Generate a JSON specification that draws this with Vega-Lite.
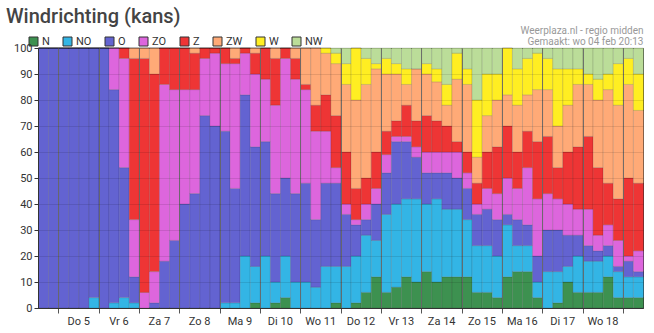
{
  "$schema": "https://vega.github.io/schema/vega-lite/v6.json",
  "width": 605,
  "height": 260,
  "autosize": {"type": "none"},
  "padding": {"left": 38, "top": 48, "right": 11, "bottom": 25},
  "background": "white",
  "title": {"text": "Windrichting (kans)", "anchor": "start", "frame": "group", "fontSize": 20, "fontWeight": 500, "color": "#444", "dx": -32, "dy": 6},
  "data": {"values": [
    {"t":"2026-02-04T12:00","N":0,"NO":0,"O":100,"ZO":0,"Z":0,"ZW":0,"W":0,"NW":0},
    {"t":"2026-02-04T18:00","N":0,"NO":0,"O":100,"ZO":0,"Z":0,"ZW":0,"W":0,"NW":0},
    {"t":"2026-02-05T00:00","N":0,"NO":0,"O":100,"ZO":0,"Z":0,"ZW":0,"W":0,"NW":0},
    {"t":"2026-02-05T06:00","N":0,"NO":0,"O":100,"ZO":0,"Z":0,"ZW":0,"W":0,"NW":0},
    {"t":"2026-02-05T12:00","N":0,"NO":0,"O":100,"ZO":0,"Z":0,"ZW":0,"W":0,"NW":0},
    {"t":"2026-02-05T18:00","N":0,"NO":4,"O":96,"ZO":0,"Z":0,"ZW":0,"W":0,"NW":0},
    {"t":"2026-02-06T00:00","N":0,"NO":0,"O":100,"ZO":0,"Z":0,"ZW":0,"W":0,"NW":0},
    {"t":"2026-02-06T06:00","N":0,"NO":2,"O":82,"ZO":16,"Z":0,"ZW":0,"W":0,"NW":0},
    {"t":"2026-02-06T12:00","N":0,"NO":4,"O":50,"ZO":42,"Z":4,"ZW":0,"W":0,"NW":0},
    {"t":"2026-02-06T18:00","N":0,"NO":2,"O":10,"ZO":22,"Z":62,"ZW":4,"W":0,"NW":0},
    {"t":"2026-02-07T00:00","N":0,"NO":0,"O":0,"ZO":6,"Z":90,"ZW":4,"W":0,"NW":0},
    {"t":"2026-02-07T06:00","N":0,"NO":0,"O":2,"ZO":12,"Z":76,"ZW":10,"W":0,"NW":0},
    {"t":"2026-02-07T12:00","N":0,"NO":0,"O":18,"ZO":68,"Z":14,"ZW":0,"W":0,"NW":0},
    {"t":"2026-02-07T18:00","N":0,"NO":0,"O":26,"ZO":58,"Z":16,"ZW":0,"W":0,"NW":0},
    {"t":"2026-02-08T00:00","N":0,"NO":0,"O":40,"ZO":44,"Z":16,"ZW":0,"W":0,"NW":0},
    {"t":"2026-02-08T06:00","N":0,"NO":0,"O":44,"ZO":40,"Z":14,"ZW":2,"W":0,"NW":0},
    {"t":"2026-02-08T12:00","N":0,"NO":0,"O":74,"ZO":22,"Z":4,"ZW":0,"W":0,"NW":0},
    {"t":"2026-02-08T18:00","N":0,"NO":0,"O":70,"ZO":28,"Z":2,"ZW":0,"W":0,"NW":0},
    {"t":"2026-02-09T00:00","N":0,"NO":2,"O":66,"ZO":26,"Z":6,"ZW":0,"W":0,"NW":0},
    {"t":"2026-02-09T06:00","N":0,"NO":2,"O":44,"ZO":48,"Z":2,"ZW":4,"W":0,"NW":0},
    {"t":"2026-02-09T12:00","N":0,"NO":20,"O":62,"ZO":16,"Z":2,"ZW":0,"W":0,"NW":0},
    {"t":"2026-02-09T18:00","N":2,"NO":14,"O":46,"ZO":28,"Z":8,"ZW":2,"W":0,"NW":0},
    {"t":"2026-02-10T00:00","N":0,"NO":20,"O":44,"ZO":24,"Z":12,"ZW":0,"W":0,"NW":0},
    {"t":"2026-02-10T06:00","N":2,"NO":8,"O":34,"ZO":34,"Z":18,"ZW":4,"W":0,"NW":0},
    {"t":"2026-02-10T12:00","N":4,"NO":16,"O":30,"ZO":46,"Z":4,"ZW":0,"W":0,"NW":0},
    {"t":"2026-02-10T18:00","N":0,"NO":10,"O":34,"ZO":44,"Z":8,"ZW":4,"W":0,"NW":0},
    {"t":"2026-02-11T00:00","N":0,"NO":10,"O":38,"ZO":36,"Z":2,"ZW":14,"W":0,"NW":0},
    {"t":"2026-02-11T06:00","N":0,"NO":8,"O":26,"ZO":34,"Z":10,"ZW":22,"W":0,"NW":0},
    {"t":"2026-02-11T12:00","N":0,"NO":16,"O":32,"ZO":20,"Z":14,"ZW":16,"W":2,"NW":0},
    {"t":"2026-02-11T18:00","N":2,"NO":14,"O":32,"ZO":6,"Z":20,"ZW":20,"W":4,"NW":2},
    {"t":"2026-02-12T00:00","N":0,"NO":16,"O":20,"ZO":4,"Z":20,"ZW":26,"W":8,"NW":6},
    {"t":"2026-02-12T06:00","N":2,"NO":18,"O":12,"ZO":2,"Z":12,"ZW":34,"W":20,"NW":0},
    {"t":"2026-02-12T12:00","N":6,"NO":22,"O":6,"ZO":6,"Z":10,"ZW":36,"W":10,"NW":4},
    {"t":"2026-02-12T18:00","N":12,"NO":14,"O":14,"ZO":6,"Z":14,"ZW":32,"W":2,"NW":6},
    {"t":"2026-02-13T00:00","N":6,"NO":30,"O":16,"ZO":7,"Z":9,"ZW":22,"W":6,"NW":4},
    {"t":"2026-02-13T06:00","N":8,"NO":32,"O":24,"ZO":2,"Z":6,"ZW":18,"W":4,"NW":6},
    {"t":"2026-02-13T12:00","N":12,"NO":30,"O":22,"ZO":2,"Z":12,"ZW":8,"W":6,"NW":8},
    {"t":"2026-02-13T18:00","N":10,"NO":32,"O":16,"ZO":4,"Z":10,"ZW":20,"W":0,"NW":8},
    {"t":"2026-02-14T00:00","N":14,"NO":26,"O":12,"ZO":8,"Z":14,"ZW":16,"W":4,"NW":6},
    {"t":"2026-02-14T06:00","N":10,"NO":32,"O":10,"ZO":8,"Z":12,"ZW":15,"W":5,"NW":8},
    {"t":"2026-02-14T12:00","N":12,"NO":26,"O":14,"ZO":8,"Z":10,"ZW":8,"W":8,"NW":14},
    {"t":"2026-02-14T18:00","N":12,"NO":26,"O":12,"ZO":10,"Z":4,"ZW":24,"W":10,"NW":2},
    {"t":"2026-02-15T00:00","N":12,"NO":22,"O":12,"ZO":6,"Z":8,"ZW":26,"W":6,"NW":8},
    {"t":"2026-02-15T06:00","N":6,"NO":18,"O":12,"ZO":4,"Z":8,"ZW":10,"W":22,"NW":20},
    {"t":"2026-02-15T12:00","N":6,"NO":18,"O":14,"ZO":8,"Z":14,"ZW":14,"W":16,"NW":10},
    {"t":"2026-02-15T18:00","N":4,"NO":16,"O":14,"ZO":10,"Z":18,"ZW":18,"W":10,"NW":10},
    {"t":"2026-02-16T00:00","N":12,"NO":20,"O":4,"ZO":14,"Z":20,"ZW":12,"W":18,"NW":0},
    {"t":"2026-02-16T06:00","N":14,"NO":10,"O":10,"ZO":12,"Z":14,"ZW":18,"W":14,"NW":8},
    {"t":"2026-02-16T12:00","N":14,"NO":10,"O":8,"ZO":22,"Z":14,"ZW":14,"W":14,"NW":4},
    {"t":"2026-02-16T18:00","N":4,"NO":6,"O":10,"ZO":22,"Z":22,"ZW":20,"W":14,"NW":2},
    {"t":"2026-02-17T00:00","N":0,"NO":14,"O":16,"ZO":14,"Z":22,"ZW":18,"W":12,"NW":4},
    {"t":"2026-02-17T06:00","N":2,"NO":12,"O":16,"ZO":12,"Z":12,"ZW":16,"W":22,"NW":8},
    {"t":"2026-02-17T12:00","N":10,"NO":6,"O":12,"ZO":12,"Z":20,"ZW":18,"W":14,"NW":8},
    {"t":"2026-02-17T18:00","N":6,"NO":14,"O":8,"ZO":10,"Z":24,"ZW":24,"W":6,"NW":8},
    {"t":"2026-02-18T00:00","N":6,"NO":12,"O":6,"ZO":14,"Z":28,"ZW":20,"W":4,"NW":10},
    {"t":"2026-02-18T06:00","N":6,"NO":12,"O":4,"ZO":6,"Z":26,"ZW":26,"W":8,"NW":12},
    {"t":"2026-02-18T12:00","N":12,"NO":8,"O":4,"ZO":8,"Z":16,"ZW":36,"W":6,"NW":10},
    {"t":"2026-02-18T18:00","N":4,"NO":10,"O":2,"ZO":10,"Z":16,"ZW":36,"W":16,"NW":6},
    {"t":"2026-02-19T00:00","N":4,"NO":8,"O":6,"ZO":2,"Z":30,"ZW":36,"W":10,"NW":4},
    {"t":"2026-02-19T06:00","N":4,"NO":8,"O":2,"ZO":8,"Z":26,"ZW":28,"W":14,"NW":10}
  ]},
  "transform": [
    {"fold": ["N","NO","O","ZO","Z","ZW","W","NW"], "as": ["richting","kans"]},
    {"lookup": "richting", "from": {"data": {"values": [
      {"richting":"N","graden":0},{"richting":"NO","graden":45},{"richting":"O","graden":90},{"richting":"ZO","graden":135},
      {"richting":"Z","graden":180},{"richting":"ZW","graden":225},{"richting":"W","graden":270},{"richting":"NW","graden":315}
    ]}, "key": "richting", "fields": ["graden"]}}
  ],
  "layer": [
    {
      "mark": {"type": "bar", "binSpacing": 0, "stroke": "#000", "strokeOpacity": 0.18, "strokeWidth": 0.7},
      "encoding": {
        "x": {"field": "t", "type": "temporal", "timeUnit": {"unit": "yearmonthdatehours", "step": 6},
          "scale": {"domain": [{"year":2026,"month":2,"date":4,"hours":12},{"year":2026,"month":2,"date":19,"hours":12}], "nice": false},
          "axis": {"title": null, "tickCount": {"interval": "day", "step": 1},
            "labelExpr": "date(datum.value) == 19 ? '' : ['Zo','Ma','Di','Wo','Do','Vr','Za'][day(datum.value)] + ' ' + date(datum.value)",
            "labelOffset": 20, "labelAlign": "center", "labelFontSize": 11, "labelColor": "#333", "labelOverlap": false, "labelBound": false, "labelFlush": false, "labelPadding": 2,
            "tickSize": 5, "tickColor": "#555", "domainColor": "#333",
            "grid": true, "gridColor": "#666", "gridOpacity": 0.9, "zindex": 1}},
        "y": {"field": "kans", "type": "quantitative", "stack": "zero", "scale": {"domain": [0, 100], "nice": false},
          "axis": {"title": null, "values": [0,10,20,30,40,50,60,70,80,90,100], "tickSize": 4, "tickColor": "#333", "domainColor": "#333",
            "labelFontSize": 11, "labelColor": "#333", "labelPadding": 2, "grid": true, "gridColor": "#000", "gridOpacity": 0.1, "zindex": 1}},
        "color": {"field": "richting", "type": "nominal", "sort": ["N","NO","O","ZO","Z","ZW","W","NW"],
          "scale": {"domain": ["N","NO","O","ZO","Z","ZW","W","NW"], "range": ["#3d9150","#33b5e5","#6363d1","#dd66dd","#ee3535","#ffaa77","#ffee22","#bbdd99"]},
          "legend": {"orient": "none", "legendX": -10, "legendY": -12, "direction": "horizontal", "columns": 8, "title": null, "padding": 0,
            "symbolType": "square", "symbolSize": 81, "symbolStrokeColor": "#333", "symbolStrokeWidth": 1, "symbolOpacity": 1,
            "labelFontSize": 11, "labelColor": "#333", "labelOffset": 3, "columnPadding": 11}},
        "order": {"field": "graden", "type": "quantitative", "sort": "ascending"}
      }
    },
    {
      "mark": {"type": "rule", "opacity": 0},
      "encoding": {
        "x": {"field": "t", "type": "temporal", "timeUnit": {"unit": "yearmonthdatehours", "step": 6},
          "axis": {"orient": "top", "labels": false, "ticks": false, "domain": false, "grid": false,
            "title": ["Weerplaza.nl - regio midden", "Gemaakt: wo 04 feb 20:13"],
            "titleAnchor": "end", "titleAlign": "right", "titleFontSize": 10, "titleFontWeight": "normal", "titleColor": "#999",
            "titleLineHeight": 11, "titleBaseline": "bottom", "titleY": -13}}
      }
    }
  ],
  "resolve": {"axis": {"x": "independent"}},
  "config": {"font": "Roboto", "view": {"stroke": "#333", "strokeWidth": 1}}
}
